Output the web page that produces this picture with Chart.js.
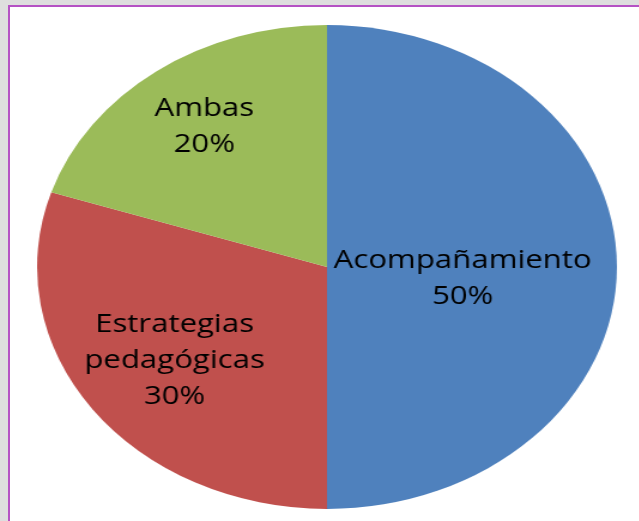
<!DOCTYPE html>
<html>
<head>
<meta charset="utf-8">
<script src="https://cdn.jsdelivr.net/npm/chart.js@4.4.0/dist/chart.umd.min.js"></script>
<style>
  html, body { margin:0; padding:0; }
  body { width:639px; height:521px; background:#dedede; position:relative; overflow:hidden; }
  #frame { position:absolute; left:8px; top:5px; width:700px; height:600px; background:#ffffff; border-left:2px solid #b552c4; border-top:2px solid #b552c4; box-sizing:border-box; }
  #wrap { position:absolute; left:77px; top:17px; width:500px; height:500px; transform:scaleX(1.198); transform-origin:250px 250px; }
  #wrap canvas { display:block; }
</style>
</head>
<body>
<div id="frame"></div>
<div id="wrap"><canvas id="c" width="500" height="500"></canvas></div>
<script>
const categories = ["Acompañamiento", "Estrategias pedagógicas", "Ambas"];
const labelLines = [["Acompañamiento"], ["Estrategias", "pedagógicas"], ["Ambas"]];
const values = [50, 30, 20];
const colors = ["#4f81bd", "#c0504d", "#9bbb59"];

const labelPlugin = {
  id: 'sliceLabels',
  afterDatasetsDraw(chart, args, opts) {
    const ctx = chart.ctx;
    const meta = chart.getDatasetMeta(0);
    const total = values.reduce((a, b) => a + b, 0);
    ctx.save();
    ctx.font = opts.font;
    ctx.fillStyle = '#000';
    ctx.textAlign = 'center';
    ctx.textBaseline = 'middle';
    meta.data.forEach((arc, i) => {
      const p = arc.getProps(['x', 'y', 'startAngle', 'endAngle', 'outerRadius'], true);
      const mid = (p.startAngle + p.endAngle) / 2 + (opts.angleShift[i] || 0) * Math.PI / 180;
      const r = p.outerRadius * opts.radial[i];
      const cx = p.x + Math.cos(mid) * r;
      const cy = p.y + Math.sin(mid) * r;
      const lines = labelLines[i].concat([Math.round(values[i] / total * 100) + '%']);
      const lh = opts.lineHeight;
      const y0 = cy - (lines.length - 1) * lh / 2;
      lines.forEach((t, k) => ctx.fillText(t, cx, y0 + k * lh + opts.baseShift));
    });
    ctx.restore();
  }
};

new Chart(document.getElementById('c'), {
  type: 'pie',
  data: {
    labels: categories,
    datasets: [{ data: values, backgroundColor: colors, borderWidth: 0, hoverOffset: 0 }]
  },
  options: {
    responsive: false,
    animation: false,
    radius: 242,
    layout: { padding: 0 },
    plugins: {
      legend: { display: false },
      tooltip: { enabled: false },
      sliceLabels: {
        font: '26px "Open Sans", sans-serif',
        lineHeight: 36,
        baseShift: 1,
        radial: [0.47, 0.65, 0.72],
        angleShift: [5.3, 0, 0]
      }
    }
  },
  plugins: [labelPlugin]
});
</script>
</body>
</html>
